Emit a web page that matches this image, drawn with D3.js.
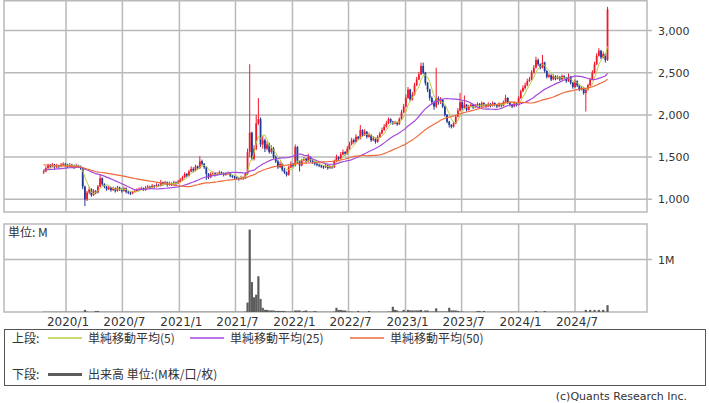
<!DOCTYPE html>
<html><head><meta charset="utf-8">
<script src="https://cdn.jsdelivr.net/npm/d3@7"></script>
<style>body{margin:0;background:#fff}svg{display:block}</style>
</head><body><svg id="c" width="709" height="403"></svg>
<script>
// ---------- data (weekly candles) ----------
const firstWeek = "2019-10-21";
const firstOpen = 1320;
// closes of the weeks before the visible window (only feed the moving averages)
const preCloses = [1480,1470,1460,1470,1480,1460,1470,1480,1460,1470,1480,1470,1460,1470,1480,1470,1460,1470,1480,1460,1470,1460,1470,1460,1470,
1350,1340,1330,1350,1340,1330,1360,1340,1350,1330,1340,1360,1350,1370,1340,1360,1370,1350,1360,1350,1340,1360,1350,1340];
const closes = [1330,1370,1400,1390,1410,1380,1400,1390,1410,1420,
1400,1390,1410,1400,1380,1400,1390,1370,1150,1000,
1080,1120,1050,1100,1080,1150,1250,1180,1150,1120,
1140,1110,1130,1100,1140,1120,1100,1130,1090,1080,
1070,1090,1100,1110,1120,1130,1110,1140,1150,1140,
1160,1150,1170,1160,1200,1180,1200,1170,1190,1180,
1200,1190,1210,1230,1260,1300,1280,1330,1360,1340,
1390,1370,1450,1420,1380,1300,1260,1300,1310,1290,
1300,1320,1310,1290,1300,1310,1280,1270,1260,1250,
1240,1260,1250,1300,1560,1790,1480,1600,1900,1950,
1650,1700,1600,1650,1560,1600,1500,1450,1380,1420,
1350,1320,1290,1380,1420,1400,1620,1450,1400,1460,
1480,1450,1500,1460,1440,1420,1410,1400,1390,1380,
1400,1370,1390,1380,1450,1500,1480,1530,1560,1540,
1600,1650,1700,1680,1740,1720,1820,1760,1800,1740,
1760,1700,1720,1680,1740,1780,1820,1860,1900,1950,
1920,1900,1910,1890,1950,2030,2100,2200,2300,2180,
2240,2350,2420,2480,2580,2500,2380,2300,2200,2150,
2100,2200,2150,2180,2100,2000,1920,1880,1860,1900,
1980,2050,2150,2080,2120,2060,2100,2120,2090,2110,
2130,2100,2140,2120,2100,2130,2110,2140,2120,2100,
2130,2110,2150,2200,2150,2120,2100,2140,2120,2200,
2280,2320,2350,2400,2420,2500,2560,2650,2600,2560,
2620,2520,2450,2470,2420,2460,2430,2450,2420,2460,
2440,2400,2450,2380,2330,2400,2350,2300,2320,2260,
2300,2350,2420,2500,2600,2700,2760,2680,2720,2650,
3250];
const highs = [1350,1390,1420,1420,1430,1420,1420,1410,1430,1440,
1430,1420,1430,1420,1410,1420,1410,1400,1380,1160,
1100,1150,1130,1120,1110,1170,1290,1260,1190,1160,
1160,1150,1150,1140,1160,1150,1130,1150,1140,1100,
1090,1100,1120,1130,1140,1150,1140,1160,1170,1160,
1180,1170,1190,1180,1230,1210,1220,1210,1210,1200,
1220,1210,1230,1250,1280,1320,1310,1350,1390,1380,
1410,1400,1510,1470,1430,1390,1310,1320,1330,1320,
1320,1340,1330,1320,1320,1330,1320,1290,1280,1270,
1260,1280,1270,1320,1600,2600,1800,1640,2000,2200,
1970,1750,1720,1690,1670,1640,1620,1520,1470,1450,
1430,1370,1330,1400,1450,1430,1650,1630,1460,1480,
1500,1490,1540,1510,1470,1450,1430,1420,1410,1400,
1420,1410,1410,1400,1470,1530,1510,1560,1590,1570,
1630,1680,1730,1720,1770,1750,1880,1830,1830,1810,
1790,1770,1750,1730,1760,1800,1850,1890,1930,1970,
1960,1930,1930,1920,1970,2060,2130,2240,2330,2310,
2270,2380,2450,2510,2620,2620,2510,2390,2310,2220,
2170,2560,2220,2210,2190,2110,2010,1930,1890,1920,
2000,2080,2260,2160,2230,2130,2120,2140,2130,2130,
2150,2140,2160,2150,2130,2150,2140,2160,2150,2130,
2150,2140,2170,2240,2210,2160,2130,2160,2150,2220,
2300,2350,2380,2430,2450,2530,2590,2690,2670,2610,
2710,2630,2530,2490,2480,2480,2470,2470,2460,2480,
2470,2450,2490,2460,2390,2420,2410,2360,2340,2330,
2320,2370,2440,2530,2630,2730,2790,2770,2750,2730,
3280];
const lows = [1300,1320,1360,1370,1380,1360,1370,1370,1380,1400,
1380,1370,1380,1380,1360,1370,1370,1350,1120,920,
980,1060,1030,1040,1060,1070,1140,1160,1130,1100,
1110,1090,1100,1080,1090,1100,1080,1090,1070,1060,
1050,1060,1080,1090,1100,1110,1100,1100,1130,1120,
1130,1130,1140,1150,1150,1160,1170,1150,1160,1160,
1170,1170,1180,1200,1220,1250,1260,1270,1320,1320,
1330,1350,1360,1400,1360,1230,1240,1250,1290,1270,
1280,1290,1290,1270,1280,1290,1260,1250,1240,1230,
1220,1230,1230,1240,1290,1500,1460,1460,1580,1880,
1620,1600,1560,1580,1540,1540,1480,1430,1360,1370,
1330,1300,1270,1280,1370,1380,1390,1430,1330,1390,
1450,1430,1440,1440,1420,1400,1390,1380,1370,1360,
1370,1350,1360,1360,1370,1440,1460,1470,1520,1520,
1530,1590,1640,1660,1670,1700,1710,1740,1750,1720,
1730,1680,1690,1660,1670,1730,1770,1810,1850,1890,
1900,1880,1890,1870,1880,1940,2020,2090,2190,2160,
2170,2230,2340,2410,2470,2480,2350,2270,2170,2120,
2060,2080,2120,2130,2080,1980,1900,1850,1840,1850,
1890,1970,2040,2060,2070,2040,2050,2090,2070,2080,
2100,2080,2090,2100,2080,2090,2090,2100,2100,2080,
2090,2090,2100,2140,2130,2100,2080,2090,2100,2110,
2190,2270,2300,2340,2390,2410,2490,2550,2580,2540,
2550,2500,2430,2440,2400,2410,2410,2420,2400,2410,
2420,2380,2390,2360,2310,2320,2330,2280,2290,2240,
2040,2290,2340,2410,2490,2590,2690,2660,2670,2620,
2640];
// volume in millions
const volumes = [.005,.005,.005,.005,.005,.005,.005,.005,.005,.005,
.005,.005,.005,.005,.005,.005,.005,.005,.005,.04,
.01,.005,.005,.005,.02,.02,.005,.005,.005,.005,
.005,.005,.005,.005,.005,.005,.005,.005,.005,.005,
.005,.005,.005,.005,.005,.005,.005,.005,.005,.005,
.005,.005,.005,.005,.005,.005,.005,.005,.005,.005,
.005,.005,.005,.005,.005,.005,.005,.005,.005,.005,
.005,.005,.005,.005,.005,.005,.005,.005,.005,.005,
.005,.005,.005,.005,.005,.005,.005,.005,.005,.005,
.005,.005,.005,.01,.18,1.57,.57,.28,.33,.68,
.25,.08,.04,.04,.03,.03,.03,.02,.02,.02,
.02,.02,.01,.01,.01,.01,.03,.03,.03,.01,
.02,.03,.01,.01,.01,.02,.01,.005,.005,.005,
.005,.005,.005,.005,.01,.08,.04,.04,.03,.03,
.01,.01,.01,.005,.005,.02,.005,.005,.005,.005,
.02,.005,.005,.005,.005,.005,.005,.005,.005,.01,
.01,.10,.04,.03,.01,.01,.04,.01,.04,.03,
.03,.03,.03,.03,.04,.01,.03,.03,.01,.01,
.01,.07,.01,.01,.01,.01,.01,.08,.03,.03,
.03,.02,.01,.01,.005,.005,.005,.005,.005,.005,
.02,.02,.005,.02,.005,.005,.005,.005,.005,.005,
.005,.005,.005,.005,.005,.005,.005,.005,.005,.005,
.005,.005,.005,.005,.005,.005,.005,.02,.005,.005,
.005,.02,.005,.005,.005,.005,.005,.005,.005,.005,
.005,.005,.005,.005,.005,.005,.005,.005,.005,.005,
.04,.005,.04,.005,.04,.005,.04,.005,.04,.005,
.13];
const priceTicks = [1000,1500,2000,2500,3000];
const volTicks = [1];
const dateTicks = ["2020/1","2020/7","2021/1","2021/7","2022/1","2022/7","2023/1","2023/7","2024/1","2024/7"];
const maPeriods = [5,25,50];
const maLabels = ["単純移動平均(5)","単純移動平均(25)","単純移動平均(50)"];
const volLabel = "出来高 単位:(M株/口/枚)";

// ---------- styles ----------
const maColors = ["#b9cc3e","#a548dc","#ee6a3a"];
const upC = "#ee1a2c", dnC = "#1f3a98", grid = "#b9b9b9";
const F = "'DejaVu Sans', Verdana, sans-serif";
const FJ = "'Noto Sans CJK JP', 'DejaVu Sans', sans-serif";

const svg = d3.select("#c");
const P = {l:4, r:647, t:0.75, b:212};
const VP = {t:224, b:312};
const x = d3.scaleTime().domain([new Date(2020,0,1), new Date(2024,6,1)]).range([66,575]);
const y = d3.scaleLinear().domain([1000,3000]).range([199.3,30.5]);
const v = d3.scaleLinear().domain([0,1]).range([VP.b,259.5]);

const start = new Date(firstWeek+"T00:00:00");
const data = closes.map((c,i)=>({
  d: d3.timeDay.offset(start, 7*i),
  o: i ? closes[i-1] : firstOpen, c, h: highs[i], l: lows[i], vol: volumes[i]
}));
const all = preCloses.concat(closes);
function sma(n){
  return closes.map((_,i)=>{const j=i+preCloses.length; return d3.mean(all.slice(Math.max(0,j-n+1), j+1));});
}

const defs = svg.append("defs");
defs.append("clipPath").attr("id","cp").append("rect").attr("x",P.l).attr("y",P.t).attr("width",P.r-P.l).attr("height",P.b-P.t);
defs.append("clipPath").attr("id","cv").append("rect").attr("x",P.l).attr("y",VP.t).attr("width",P.r-P.l).attr("height",VP.b-VP.t);

const tickDates = dateTicks.map(s=>{const [a,b]=s.split("/"); return new Date(+a, +b-1, 1);});

// grid
const g = svg.append("g").attr("stroke",grid).attr("stroke-width",1.5).attr("fill","none");
g.selectAll(".vx").data(tickDates).enter().append("line")
  .attr("x1",d=>x(d)).attr("x2",d=>x(d)).attr("y1",P.t).attr("y2",P.b);
g.selectAll(".vv").data(tickDates).enter().append("line")
  .attr("x1",d=>x(d)).attr("x2",d=>x(d)).attr("y1",VP.t).attr("y2",VP.b);
g.selectAll(".hp").data(priceTicks).enter().append("line")
  .attr("x1",P.l).attr("x2",P.r+5).attr("y1",d=>y(d)).attr("y2",d=>y(d));
g.selectAll(".hv").data(volTicks).enter().append("line")
  .attr("x1",P.l).attr("x2",P.r+5).attr("y1",d=>v(d)).attr("y2",d=>v(d));
g.append("rect").attr("x",P.l).attr("y",P.t).attr("width",P.r-P.l).attr("height",P.b-P.t);
g.append("rect").attr("x",P.l).attr("y",VP.t).attr("width",P.r-P.l).attr("height",VP.b-VP.t);

// candles
const cg = svg.append("g").attr("clip-path","url(#cp)");
const cand = cg.selectAll(".k").data(data).enter().append("g");
cand.append("line").attr("x1",d=>x(d.d)).attr("x2",d=>x(d.d))
  .attr("y1",d=>y(d.h)).attr("y2",d=>y(d.l))
  .attr("stroke",d=>d.c>=d.o?upC:dnC).attr("stroke-width",1);
cand.append("rect").attr("x",d=>x(d.d)-0.9).attr("width",1.8)
  .attr("y",d=>y(Math.max(d.o,d.c)))
  .attr("height",d=>Math.max(1,Math.abs(y(d.o)-y(d.c))))
  .attr("fill",d=>d.c>=d.o?upC:dnC);

// moving averages
maPeriods.forEach((n,k)=>{
  const m = sma(n);
  cg.append("path").datum(data.map((d,i)=>[d.d,m[i]]))
    .attr("fill","none").attr("stroke",maColors[k]).attr("stroke-width",k?1.2:1)
    .attr("d", d3.line().x(d=>x(d[0])).y(d=>y(d[1])));
});

// volume
svg.append("g").attr("clip-path","url(#cv)").selectAll("rect").data(data).enter().append("rect")
  .attr("x",d=>x(d.d)-1.1).attr("width",2.2)
  .attr("y",d=>v(d.vol)).attr("height",d=>VP.b-v(d.vol)).attr("fill","#5c5c5c");

// axis labels
const t = svg.append("g").attr("fill","#333").attr("font-family",F);
t.selectAll(".pl").data(priceTicks).enter().append("text")
  .attr("x",658).attr("y",d=>y(d)+4).attr("font-size",11).text(d3.format(","));
t.selectAll(".vl").data(volTicks).enter().append("text")
  .attr("x",658).attr("y",d=>v(d)+4).attr("font-size",11).text(d=>d+"M");
t.selectAll(".xl").data(tickDates).enter().append("text")
  .attr("x",d=>x(d)+2).attr("y",325.5).attr("text-anchor","middle").attr("font-size",12)
  .text((d,i)=>dateTicks[i]);
svg.append("text").attr("x",8).attr("y",237).attr("font-family",FJ).attr("font-size",12).attr("fill","#333").text("単位: M");

// legend
svg.append("rect").attr("x",4.5).attr("y",329.5).attr("width",701).attr("height",56)
  .attr("fill","#fff").attr("stroke","#555").attr("stroke-width",1);
const lg = svg.append("g").attr("font-family",FJ).attr("font-size",12).attr("fill","#333");
lg.append("text").attr("x",12).attr("y",343).text("上段:");
lg.append("text").attr("x",12).attr("y",379).text("下段:");
const lx = [48,190,350];
maLabels.forEach((s,k)=>{
  lg.append("line").attr("x1",lx[k]).attr("x2",lx[k]+34).attr("y1",338).attr("y2",338)
    .attr("stroke",maColors[k]).attr("stroke-width",1.5);
  lg.append("text").attr("x",lx[k]+40).attr("y",343).text(s);
});
lg.append("line").attr("x1",48).attr("x2",82).attr("y1",374.5).attr("y2",374.5)
  .attr("stroke","#5c5c5c").attr("stroke-width",3);
lg.append("text").attr("x",88).attr("y",379).text(volLabel);

svg.append("text").attr("x",687).attr("y",400).attr("text-anchor","end")
  .attr("font-family",F).attr("font-size",11).attr("fill","#333").text("(c)Quants Research Inc.");
</script></body></html>
